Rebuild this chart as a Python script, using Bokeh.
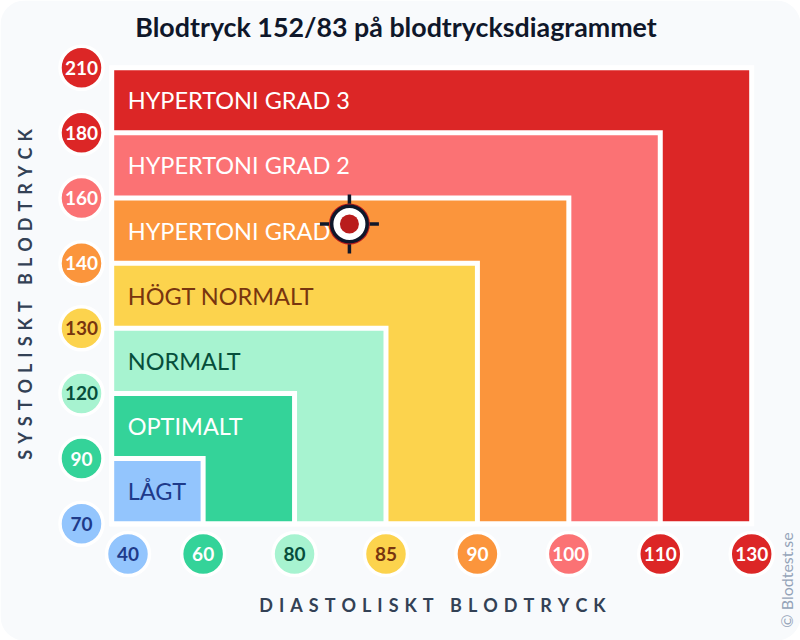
import numpy as np
from bokeh.plotting import figure
from bokeh.models import ColumnDataSource
from bokeh.core.properties import value
from bokeh.embed import file_html
from bokeh.resources import INLINE

# ---- data ----
dia_ticks = [40, 60, 80, 85, 90, 100, 110, 130]
sys_ticks = [70, 90, 120, 130, 140, 160, 180, 210]
zones = ["LÅGT", "OPTIMALT", "NORMALT", "HÖGT NORMALT", "HYPERTONI GRAD 1", "HYPERTONI GRAD 2", "HYPERTONI GRAD 3"]
zone_fill = ["#93c5fd", "#34d399", "#a7f3d0", "#fcd34d", "#fb953c", "#fb7274", "#dc2626"]
zone_text = ["#1e3a8a", "#ffffff", "#064e3b", "#78350f", "#ffffff", "#ffffff", "#ffffff"]
tick_fill = ["#93c5fd", "#34d399", "#a7f3d0", "#fcd34d", "#fb953c", "#fb7274", "#dc2626", "#dc2626"]
tick_text = ["#1e3a8a", "#ffffff", "#064e3b", "#78350f", "#ffffff", "#ffffff", "#ffffff", "#ffffff"]
sys_value = 152
dia_value = 83
title = "Blodtryck 152/83 på blodtrycksdiagrammet"
x_title = "DIASTOLISKT BLODTRYCK"
y_title = "SYSTOLISKT BLODTRYCK"
credit = "© Blodtest.se"

def spaced(s):
    return "\u2004".join(s)

FONT = value("Lato")
W, H = 800, 640
X0, X1, Y0, Y1 = 111.2, 751.2, 523.2, 67.2
ux = (X1 - X0) / 7
uy = (Y0 - Y1) / 7
fx = lambda px: (px - X0) / ux
fy = lambda py: (Y0 - py) / uy

p = figure(width=W, height=H, output_backend="svg", toolbar_location=None,
           x_range=(fx(0), fx(W)), y_range=(fy(H), fy(0)),
           min_border=0, min_border_left=0, min_border_right=0, min_border_top=0, min_border_bottom=0,
           outline_line_color=None, background_fill_color="#ffffff",
           border_fill_color="#ffffff")
p.axis.visible = False
p.grid.visible = False

# card
p.quad(left=[fx(0)], right=[fx(W)], bottom=[fy(H)], top=[fy(0)], fill_color="#f8fafc",
       line_color=None, border_radius=24)

# nested zones, largest first
idx = np.arange(1, 8)
src = ColumnDataSource(dict(left=[0] * 7, bottom=[0] * 7, right=idx[::-1], top=idx[::-1], fill=zone_fill[::-1]))
p.quad(left="left", right="right", bottom="bottom", top="top", fill_color="fill", source=src,
       line_color="#ffffff", line_width=5, line_join="miter")

# zone labels
p.text(x=[0] * 7, y=idx - 0.5, text=zones, text_color=zone_text, text_font=FONT, text_font_size="23.5px",
       text_align="left", text_baseline="middle", x_offset=16)

# ticks
def ticks(x, y, labels):
    s = ColumnDataSource(dict(x=x, y=y, t=[str(v) for v in labels], f=tick_fill, c=tick_text))
    p.scatter(x="x", y="y", size=43, marker="circle", fill_color="f", line_color="#ffffff", line_width=3.5, source=s)
    p.text(x="x", y="y", text="t", text_color="c", text_font=FONT, text_font_size="19px", text_font_style="bold",
           text_align="center", text_baseline="middle", source=s)

ticks([fx(81)] * 8, list(range(8)), sys_ticks)
ticks([fx(127.5)] + list(range(1, 8)), [fy(553.5)] * 8, dia_ticks)

# marker, located on the piecewise tick scale
mx = float(np.interp(dia_value, dia_ticks, range(8)))
my = float(np.interp(sys_value, sys_ticks, range(8)))
p.scatter([mx], [my], marker="cross", size=59, line_color="#0f172a", line_width=3.5, fill_color=None)
p.scatter([mx], [my], marker="circle", size=41, fill_color="#b91c1c", line_color=None)
p.scatter([mx], [my], marker="circle", size=35.5, fill_color="#ffffff", line_color="#0f172a", line_width=3.5)
p.scatter([mx], [my], marker="circle", size=19, fill_color="#b91c1c", line_color=None)

# titles
p.text(x=[fx(395.5)], y=[fy(26)], text=[title], text_color="#0f172a", text_font=FONT, text_font_size="26.8px",
       text_font_style="bold", text_align="center", text_baseline="middle")
p.text(x=[fx(432)], y=[fy(604.5)], text=[spaced(x_title)], text_color="#334155", text_font=FONT, text_font_size="18px",
       text_font_style="bold", text_align="center", text_baseline="middle")
p.text(x=[fx(24.5)], y=[fy(294)], text=[spaced(y_title)], text_color="#334155", text_font=FONT, text_font_size="18px",
       text_font_style="bold", text_align="center", text_baseline="middle", angle=np.pi / 2)
p.text(x=[fx(785.5)], y=[fy(579.5)], text=[credit], text_color="#94a3b8", text_font=FONT, text_font_size="16px",
       text_align="center", text_baseline="middle", angle=np.pi / 2)

open("out.html", "w").write(file_html(p, INLINE))
